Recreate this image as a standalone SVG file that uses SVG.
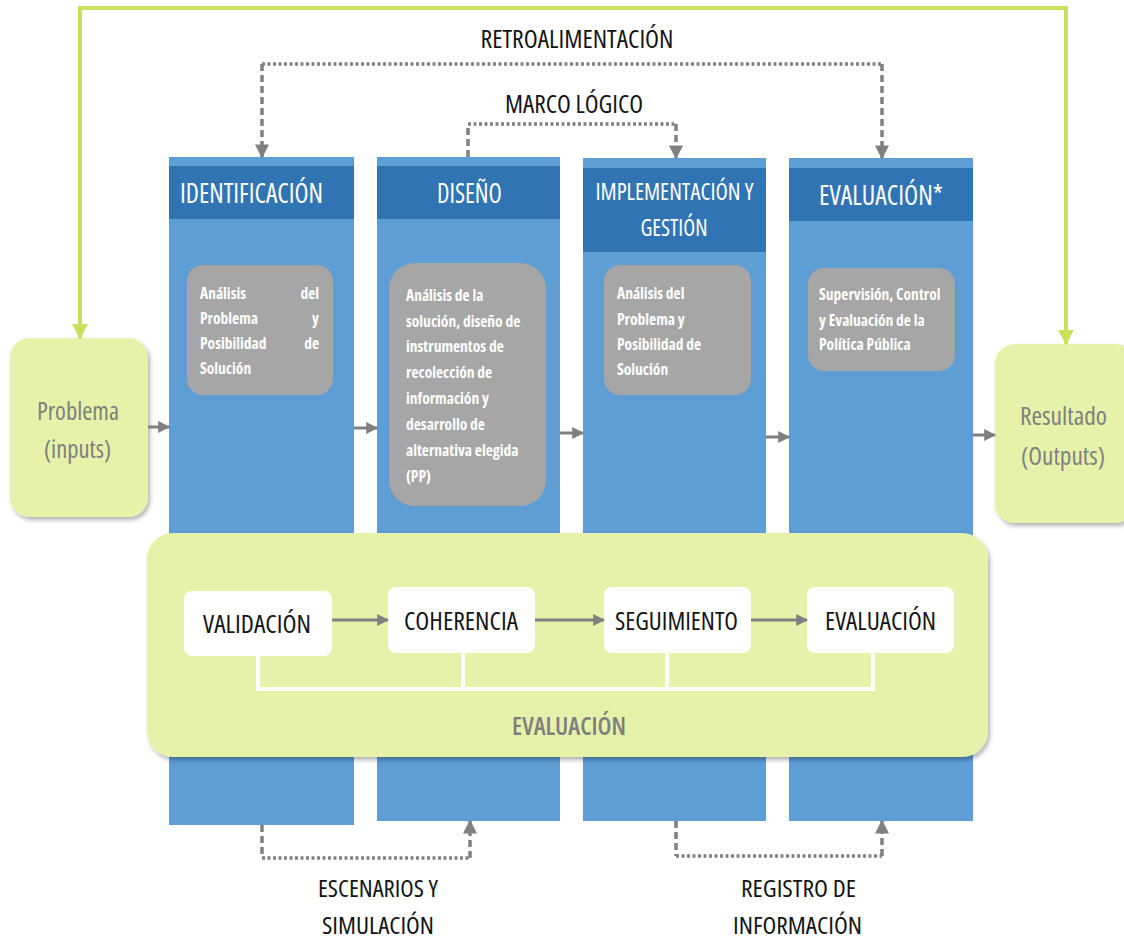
<svg xmlns="http://www.w3.org/2000/svg" width="1124" height="942" viewBox="0 0 1124 942">
<defs>
<style>
text{font-family:"Open Sans","Liberation Sans",Arial,sans-serif;font-stretch:condensed}
.col{fill:#5f9dd5}
.hd{fill:#3174b4}
.gb{fill:#a6a6a6}
.hdr{font-size:27px;fill:#ffffff;text-anchor:middle}
.gt{font-weight:bold;font-size:15.5px;fill:#ffffff}
.lbl{font-size:26px;fill:#141414;text-anchor:middle}
.bl{font-size:24px;fill:#141414;text-anchor:middle}
.io{font-size:26px;fill:#7f7f7f;text-anchor:middle}
.grn{fill:#e6f2aa}
.wb{fill:#ffffff}
.ga{stroke:#7f7f7f;stroke-width:3;fill:none}
.dot{stroke:#808080;stroke-width:3.5;fill:none;stroke-dasharray:3 2.5}
.dash{stroke:#808080;stroke-width:3.5;fill:none;stroke-dasharray:7 4}
.fb{stroke:#c8e05c;stroke-width:4;fill:none}
.br{stroke:#ffffff;stroke-width:4;fill:none}
</style>
<marker id="ag" viewBox="0 0 10 10" refX="9" refY="5" markerWidth="4" markerHeight="4" orient="auto" markerUnits="strokeWidth">
<path d="M0,0 L10,5 L0,10 z" fill="#7f7f7f"/>
</marker>
<marker id="ad" viewBox="0 0 10 10" refX="9" refY="5" markerWidth="4" markerHeight="4.2" orient="auto" markerUnits="strokeWidth">
<path d="M0,0 L10,5 L0,10 z" fill="#808080"/>
</marker>
<marker id="af" viewBox="0 0 10 10" refX="9" refY="5" markerWidth="4" markerHeight="4" orient="auto" markerUnits="strokeWidth">
<path d="M0,0 L10,5 L0,10 z" fill="#c8e05c"/>
</marker>
<filter id="sh" x="-10%" y="-10%" width="125%" height="125%">
<feDropShadow dx="2" dy="3" stdDeviation="2" flood-color="#000000" flood-opacity="0.3"/>
</filter>
</defs>
<rect width="1124" height="942" fill="#ffffff"/>

<g id="col-identificacion">
<rect class="col" x="169" y="157" width="185" height="668"/>
<rect class="hd" x="169" y="166" width="185" height="53"/>
<text class="hdr" x="251.5" y="203" textLength="143" lengthAdjust="spacingAndGlyphs">IDENTIFICACIÓN</text>
<rect class="gb" x="187" y="265" width="146" height="130" rx="16"/>
<text class="gt" x="200" y="299">Análisis</text><text class="gt" x="319" y="299" text-anchor="end">del</text>
<text class="gt" x="200" y="324">Problema</text><text class="gt" x="319" y="324" text-anchor="end">y</text>
<text class="gt" x="200" y="349">Posibilidad</text><text class="gt" x="319" y="349" text-anchor="end">de</text>
<text class="gt" x="200" y="374">Solución</text>
</g>

<g id="col-diseno">
<rect class="col" x="377" y="157" width="183" height="664"/>
<rect class="hd" x="377" y="166" width="183" height="53"/>
<text class="hdr" x="469.5" y="203" textLength="65" lengthAdjust="spacingAndGlyphs">DISEÑO</text>
<rect class="gb" x="389" y="263" width="157" height="243" rx="26"/>
<text class="gt" x="406" y="301">Análisis de la</text>
<text class="gt" x="406" y="327">solución, diseño de</text>
<text class="gt" x="406" y="352">instrumentos de</text>
<text class="gt" x="406" y="378">recolección de</text>
<text class="gt" x="406" y="404">información y</text>
<text class="gt" x="406" y="430">desarrollo de</text>
<text class="gt" x="406" y="456">alternativa elegida</text>
<text class="gt" x="406" y="482">(PP)</text>
</g>

<g id="col-implementacion">
<rect class="col" x="583" y="158" width="183" height="663"/>
<rect class="hd" x="583" y="168" width="183" height="84"/>
<text class="hdr" x="674.5" y="200" style="font-size:24px" textLength="158" lengthAdjust="spacingAndGlyphs">IMPLEMENTACIÓN Y</text>
<text class="hdr" x="674" y="236" style="font-size:24px" textLength="67" lengthAdjust="spacingAndGlyphs">GESTIÓN</text>
<rect class="gb" x="604" y="265" width="147" height="130" rx="16"/>
<text class="gt" x="617" y="299">Análisis del</text>
<text class="gt" x="617" y="325">Problema y</text>
<text class="gt" x="617" y="350">Posibilidad de</text>
<text class="gt" x="617" y="375">Solución</text>
</g>

<g id="col-evaluacion">
<rect class="col" x="789" y="158" width="184" height="663"/>
<rect class="hd" x="789" y="168" width="184" height="53"/>
<text class="hdr" x="881" y="205" textLength="124" lengthAdjust="spacingAndGlyphs">EVALUACIÓN*</text>
<rect class="gb" x="808" y="268" width="147" height="103" rx="16"/>
<text class="gt" x="819" y="300">Supervisión, Control</text>
<text class="gt" x="819" y="326">y Evaluación de la</text>
<text class="gt" x="819" y="350">Política Pública</text>
</g>

<g id="problema">
<rect class="grn" x="10" y="338" width="138" height="179" rx="20" filter="url(#sh)"/>
<text class="io" x="78" y="420" textLength="82" lengthAdjust="spacingAndGlyphs">Problema</text>
<text class="io" x="77.5" y="458" textLength="67" lengthAdjust="spacingAndGlyphs">(inputs)</text>
</g>

<g id="resultado">
<rect class="grn" x="995" y="344" width="140" height="179" rx="20" filter="url(#sh)"/>
<text class="io" x="1063.5" y="425" textLength="87" lengthAdjust="spacingAndGlyphs">Resultado</text>
<text class="io" x="1063" y="465" textLength="84" lengthAdjust="spacingAndGlyphs">(Outputs)</text>
</g>

<g id="panel-evaluacion">
<rect class="grn" x="147" y="533" width="841" height="224" rx="26" filter="url(#sh)"/>
<text x="569" y="735" font-size="26" font-weight="600" fill="#7f7f7f" text-anchor="middle" textLength="114" lengthAdjust="spacingAndGlyphs">EVALUACIÓN</text>
</g>

<g id="validacion">
<rect class="wb" x="184" y="591" width="148" height="65" rx="8"/>
<text class="lbl" x="257" y="633" textLength="108" lengthAdjust="spacingAndGlyphs">VALIDACIÓN</text>
</g>
<g id="coherencia">
<rect class="wb" x="388" y="587" width="147" height="66" rx="8"/>
<text class="lbl" x="461" y="630" textLength="114" lengthAdjust="spacingAndGlyphs">COHERENCIA</text>
</g>
<g id="seguimiento">
<rect class="wb" x="604" y="587" width="147" height="66" rx="8"/>
<text class="lbl" x="676.5" y="630" textLength="123" lengthAdjust="spacingAndGlyphs">SEGUIMIENTO</text>
</g>
<g id="evaluacion-inner">
<rect class="wb" x="807" y="587" width="147" height="66" rx="8"/>
<text class="lbl" x="880.5" y="630" textLength="111" lengthAdjust="spacingAndGlyphs">EVALUACIÓN</text>
</g>

<g id="labels">
<text class="lbl" x="577" y="48" textLength="193" lengthAdjust="spacingAndGlyphs">RETROALIMENTACIÓN</text>
<text class="lbl" x="574" y="113" textLength="138" lengthAdjust="spacingAndGlyphs">MARCO LÓGICO</text>
<text class="bl" x="378" y="897" textLength="120" lengthAdjust="spacingAndGlyphs">ESCENARIOS Y</text>
<text class="bl" x="378" y="934" textLength="112" lengthAdjust="spacingAndGlyphs">SIMULACIÓN</text>
<text class="bl" x="798.5" y="897" textLength="115" lengthAdjust="spacingAndGlyphs">REGISTRO DE</text>
<text class="bl" x="797.5" y="934" textLength="129" lengthAdjust="spacingAndGlyphs">INFORMACIÓN</text>
</g>

<g id="connectors">
<path class="fb" d="M80,338 V8 H1066 V344" marker-end="url(#af)"/>
<path class="fb" d="M80,30 V338" marker-end="url(#af)"/>

<line class="ga" x1="148" y1="427" x2="169" y2="427" marker-end="url(#ag)"/>
<line class="ga" x1="354" y1="428" x2="377" y2="428" marker-end="url(#ag)"/>
<line class="ga" x1="560" y1="433" x2="583" y2="433" marker-end="url(#ag)"/>
<line class="ga" x1="766" y1="437" x2="789" y2="437" marker-end="url(#ag)"/>
<line class="ga" x1="973" y1="435" x2="995" y2="435" marker-end="url(#ag)"/>

<line class="ga" x1="332" y1="620" x2="388" y2="620" marker-end="url(#ag)"/>
<line class="ga" x1="535" y1="620" x2="604" y2="620" marker-end="url(#ag)"/>
<line class="ga" x1="751" y1="620" x2="807" y2="620" marker-end="url(#ag)"/>

<path class="br" d="M258,656 V689 H873 V653"/>
<line class="br" x1="463" y1="653" x2="463" y2="689"/>
<line class="br" x1="667" y1="653" x2="667" y2="689"/>

<line class="dot" x1="262" y1="64" x2="882" y2="64"/>
<line class="dash" x1="262" y1="64" x2="262" y2="157" marker-end="url(#ad)"/>
<line class="dash" x1="882" y1="64" x2="882" y2="158" marker-end="url(#ad)"/>

<line class="dot" x1="468" y1="124" x2="676" y2="124"/>
<line class="dash" x1="468" y1="157" x2="468" y2="124"/>
<line class="dash" x1="676" y1="124" x2="676" y2="158" marker-end="url(#ad)"/>

<line class="dash" x1="262" y1="825" x2="262" y2="858"/>
<line class="dot" x1="262" y1="858" x2="470" y2="858"/>
<line class="dash" x1="470" y1="858" x2="470" y2="821" marker-end="url(#ad)"/>

<line class="dash" x1="676" y1="821" x2="676" y2="856"/>
<line class="dot" x1="676" y1="856" x2="882" y2="856"/>
<line class="dash" x1="882" y1="856" x2="882" y2="821" marker-end="url(#ad)"/>
</g>
</svg>
